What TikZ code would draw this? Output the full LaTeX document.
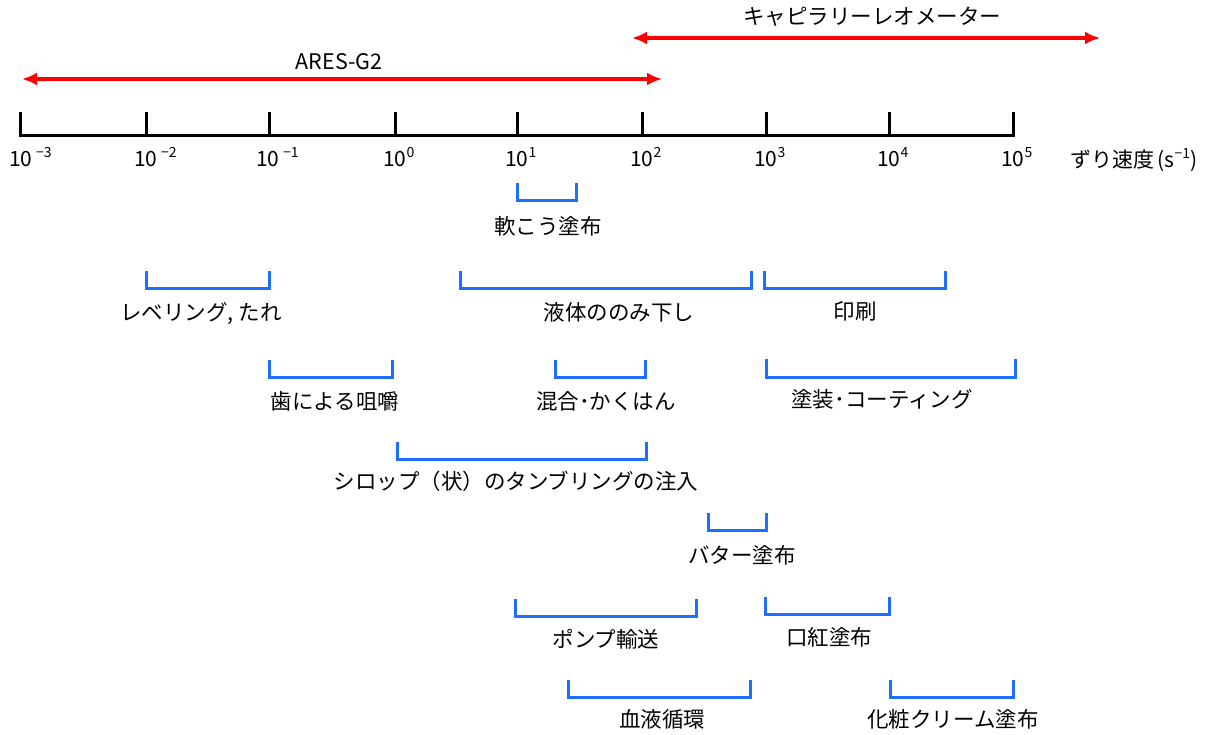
\documentclass[tikz,border=0pt]{standalone}
\usepackage{fontspec}
\setmainfont{Noto Sans CJK JP}
\usetikzlibrary{arrows.meta}
\definecolor{brkblue}{RGB}{30,110,255}
\definecolor{rng}{RGB}{255,0,0}
\tikzset{
  brk/.style={draw=brkblue, line width=3pt},
  lbl/.style={inner sep=0pt, anchor=center, yshift=-4pt, font=\fontsize{21.5}{21.5}\selectfont, text height=0.88em, text depth=0.12em},
  axislbl/.style={inner sep=0pt, anchor=west, yshift=-3pt, font=\fontsize{21}{21}\selectfont, text height=0.88em, text depth=0.12em},
  rangearrow/.style={draw=rng, line width=3.2pt, {Latex[length=15pt,width=13pt]}-{Latex[length=15pt,width=13pt]}},
  axisline/.style={draw=black, line width=3pt}
}
\newcommand{\ex}[1]{\raisebox{0.45em}{\fontsize{14}{14}\selectfont #1}}
\begin{document}
\begin{tikzpicture}[x=1pt,y=-1pt]
\useasboundingbox (0,0) rectangle (1214,735);
% range arrows
\coordinate (aresL) at (22,79);
\coordinate (aresR) at (662,79);
\coordinate (capL) at (632,38);
\coordinate (capR) at (1100,38);
\draw[rangearrow] (aresL) -- (aresR);
\draw[rangearrow] (capL) -- (capR);
\node[lbl] (ares) at (339,62) {ARES-G2};
\node[lbl] (cap) at (872,17) {キャピラリーレオメーター};
% axis
\foreach \i/\x in {0/20,1/146,2/269,3/395,4/517,5/642,6/766,7/889,8/1013}{
  \coordinate (t\i) at (\x,136);
  \coordinate (u\i) at (\x,112);
}
\draw[axisline, line cap=rect] (t0) -- (t8);
\foreach \i in {0,...,8}{ \draw[axisline] (t\i) -- (u\i); }
\node[axislbl] (l0) at (9,160) {10\,\ex{−3}};
\node[axislbl] (l1) at (134,160) {10\,\ex{−2}};
\node[axislbl] (l2) at (256,160) {10\,\ex{−1}};
\node[axislbl] (l3) at (383,160) {10\ex{0}};
\node[axislbl] (l4) at (505,160) {10\ex{1}};
\node[axislbl] (l5) at (630,160) {10\ex{2}};
\node[axislbl] (l6) at (754,160) {10\ex{3}};
\node[axislbl] (l7) at (877,160) {10\ex{4}};
\node[axislbl] (l8) at (1001,160) {10\ex{5}};
\node[axislbl] (unit) at (1070,161) {ずり速度\,(s\ex{−1})};
% brackets
\draw[brk] (517,183) -- (517,201) -- (576,201) -- (576,183);
\node[lbl] (nanko) at (548,227) {軟こう塗布};
\draw[brk] (146,271) -- (146,288) -- (269,288) -- (269,271);
\node[lbl] (level) at (201,313) {レベリング, たれ};
\draw[brk] (460,271) -- (460,288) -- (751,288) -- (751,271);
\node[lbl] (ekitai) at (619,313) {液体ののみ下し};
\draw[brk] (764,271) -- (764,288) -- (945,288) -- (945,271);
\node[lbl] (insatsu) at (855,312) {印刷};
\draw[brk] (269,360) -- (269,377) -- (392,377) -- (392,360);
\node[lbl] (ha) at (335,402) {歯による咀嚼};
\draw[brk] (555,360) -- (555,377) -- (645,377) -- (645,360);
\node[lbl] (kongo) at (606,402) {混合･かくはん};
\draw[brk] (766,359) -- (766,377) -- (1015,377) -- (1015,359);
\node[lbl] (tosou) at (882,400) {塗装･コーティング};
\draw[brk] (397,442) -- (397,459) -- (646,459) -- (646,442);
\node[lbl] (syrup) at (516,482) {シロップ（状）のタンブリングの注入};
\draw[brk] (708,513) -- (708,530) -- (766,530) -- (766,513);
\node[lbl] (butter) at (742,556) {バター塗布};
\draw[brk] (515,599) -- (515,616) -- (696,616) -- (696,599);
\node[lbl] (pump) at (606,640) {ポンプ輸送};
\draw[brk] (765,597) -- (765,614) -- (889,614) -- (889,597);
\node[lbl] (kuchi) at (829,638) {口紅塗布};
\draw[brk] (568,680) -- (568,697) -- (750,697) -- (750,680);
\node[lbl] (ketsu) at (662,720) {血液循環};
\draw[brk] (890,680) -- (890,697) -- (1013,697) -- (1013,680);
\node[lbl] (kesho) at (953,720) {化粧クリーム塗布};
\end{tikzpicture}
\end{document}
